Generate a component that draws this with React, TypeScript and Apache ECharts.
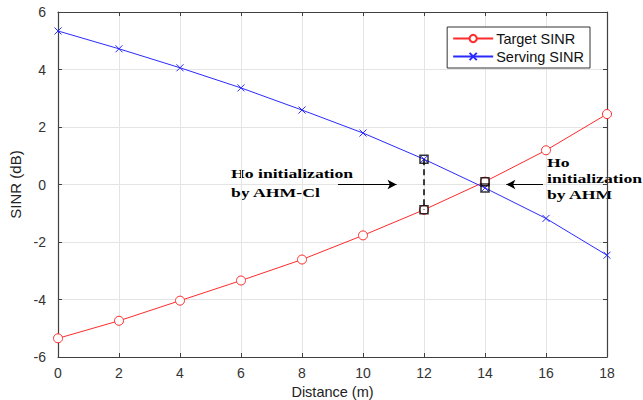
import React, { useEffect, useRef } from "react";
import * as echarts from "echarts";

const distances = [0, 2, 4, 6, 8, 10, 12, 14, 16, 18];
const targetSinr = [-5.35, -4.74, -4.04, -3.34, -2.61, -1.77, -0.88, 0.1, 1.19, 2.45];
const servingSinr = [5.34, 4.72, 4.06, 3.36, 2.59, 1.79, 0.88, -0.12, -1.18, -2.46];
const handoverMarks: [number, number][] = [[12, 0.88], [12, -0.88], [14, 0.1], [14, -0.12]];
const dashedSegment: [number, number][] = [[12, 0.88], [12, -0.88]];
const arrowLeft: [number, number][] = [[9.18, 0], [11.1, 0]];
const arrowRight: [number, number][] = [[15.9, 0], [14.7, 0]];
const labelLeft = ["Ho initialization", "by AHM-Cl"];
const labelRight = ["Ho", "initialization", "by AHM"];

const RED = "#ff2a2a";
const BLUE = "#2a2aff";
const AX = "#404040";
const SANS = "Liberation Sans, Arial, sans-serif";
const crossPath = "path://M0,0L10,10M10,0L0,10";

export default function App() {
  const ref = useRef<HTMLDivElement>(null);
  useEffect(() => {
    if (!ref.current) return;
    const chart = echarts.init(ref.current, undefined, { renderer: "svg" });
    const axisBase = {
      type: "value" as const,
      axisLine: { show: true, onZero: false, lineStyle: { color: AX, width: 1.2 } },
      axisTick: { show: true, inside: true, length: 4, lineStyle: { color: AX } },
    };
    chart.setOption({
      animation: false,
      backgroundColor: "#ffffff",
      grid: { left: 58, right: 36, top: 12, bottom: 43, containLabel: false, outerBoundsMode: "none" },
      legend: {
        orient: "vertical",
        right: 53,
        top: 27,
        backgroundColor: "#fff",
        borderColor: "#333",
        borderWidth: 1,
        borderRadius: 0,
        padding: [4, 6, 4, 5],
        itemGap: 3,
        itemWidth: 40,
        itemHeight: 9,
        textStyle: { fontFamily: SANS, fontSize: 14.5, color: "#111", padding: [0, 0, 0, -2] },
        data: ["Target SINR", "Serving SINR"],
      },
      xAxis: [
        {
          ...axisBase,
          min: 0,
          max: 18,
          interval: 2,
          name: "Distance (m)",
          nameLocation: "middle",
          nameGap: 25,
          nameTextStyle: { fontFamily: SANS, fontSize: 14.5, color: "#222", lineHeight: 15 },
          axisLabel: { fontFamily: SANS, fontSize: 14, color: "#333", margin: 9 },
          splitLine: { show: true, lineStyle: { color: "#e4e4e4", width: 1 } },
        },
        {
          ...axisBase,
          position: "top",
          min: 0,
          max: 18,
          interval: 2,
          axisLabel: { show: false },
          splitLine: { show: false },
        },
      ],
      yAxis: [
        {
          ...axisBase,
          min: -6,
          max: 6,
          interval: 2,
          name: "SINR (dB)",
          nameLocation: "middle",
          nameGap: 33,
          nameTextStyle: { fontFamily: SANS, fontSize: 15, color: "#222" },
          axisLabel: { fontFamily: SANS, fontSize: 14, color: "#333", margin: 12 },
          splitLine: { show: true, lineStyle: { color: "#e4e4e4", width: 1 } },
        },
        {
          ...axisBase,
          position: "right",
          min: -6,
          max: 6,
          interval: 2,
          axisLabel: { show: false },
          splitLine: { show: false },
        },
      ],
      series: [
        {
          name: "Target SINR",
          type: "line",
          data: distances.map((d, i) => [d, targetSinr[i]]),
          symbol: "circle",
          symbolSize: 9,
          lineStyle: { color: RED, width: 1 },
          itemStyle: { color: "#ffffff", borderColor: RED, borderWidth: 1 },
          z: 3,
        },
        {
          name: "Serving SINR",
          type: "line",
          data: distances.map((d, i) => [d, servingSinr[i]]),
          symbol: crossPath,
          symbolSize: 7,
          lineStyle: { color: BLUE, width: 1 },
          itemStyle: { color: BLUE, borderColor: BLUE, borderWidth: 1 },
          z: 3,
        },
        {
          name: "dash",
          type: "line",
          data: dashedSegment,
          symbol: "none",
          lineStyle: { color: "#000", width: 1.5, type: [6, 4] },
          z: 4,
          markLine: {
            silent: true,
            symbol: ["none", "arrow"],
            symbolSize: [7, 9],
            label: { show: false },
            lineStyle: { color: "#000", width: 1, type: "solid" },
            data: [
              [{ coord: arrowLeft[0] }, { coord: arrowLeft[1] }],
              [{ coord: arrowRight[0] }, { coord: arrowRight[1] }],
            ],
          },
        },
        {
          name: "marks",
          type: "scatter",
          data: handoverMarks,
          symbol: "rect",
          symbolSize: 8,
          itemStyle: { color: "rgba(0,0,0,0)", borderColor: "#000", borderWidth: 1.5 },
          z: 5,
        },
      ],
      graphic: [
        {
          type: "text",
          x: 231,
          y: 164,
          scaleX: 1.36,
          style: {
            text: labelLeft.join("\n"),
            font: "bold 13px 'Liberation Serif', 'Times New Roman', serif",
            fill: "#000",
            lineHeight: 19,
            align: "left",
            verticalAlign: "top",
          },
        },
        {
          type: "text",
          x: 547,
          y: 154,
          scaleX: 1.36,
          style: {
            text: labelRight.join("\n"),
            font: "bold 13px 'Liberation Serif', 'Times New Roman', serif",
            fill: "#000",
            lineHeight: 16,
            align: "left",
            verticalAlign: "top",
          },
        },
      ],
    });
    return () => chart.dispose();
  }, []);
  return (
    <div style={{ position: "fixed", left: 0, top: 0, width: 643, height: 400, overflow: "hidden" }}>
      <div ref={ref} style={{ width: 643, height: 400 }} />
    </div>
  );
}
